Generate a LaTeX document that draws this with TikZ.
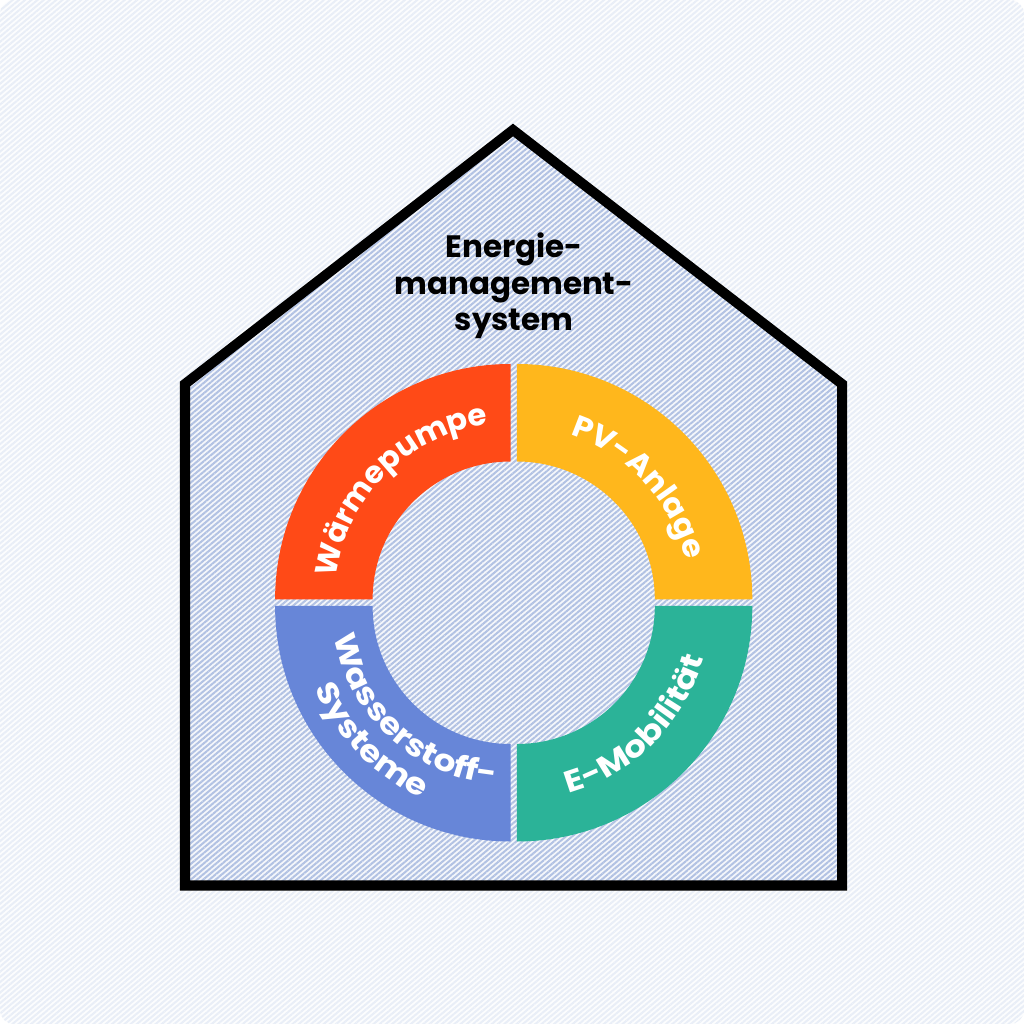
\documentclass[tikz,border=0pt]{standalone}
\usepackage{fontspec}
\usetikzlibrary{decorations.text,patterns.meta}
\newfontfamily\diagfont{Poppins}
\newfontfamily\diagfontwp{Poppins}[FakeStretch=1.02]
\newfontfamily\diagfontmid{Poppins}[FakeStretch=1.05]
\newfontfamily\diagfontwide{Poppins}[FakeStretch=1.15]
\definecolor{backlight}{HTML}{FCFDFE}
\definecolor{backline}{HTML}{E9EEF7}
\definecolor{houselight}{HTML}{F5F7FB}
\definecolor{houseline}{HTML}{B2C2E3}
\definecolor{wpcolor}{HTML}{FF4A17}
\definecolor{pvcolor}{HTML}{FFB71C}
\definecolor{emcolor}{HTML}{2BB398}
\definecolor{wscolor}{HTML}{6786D8}
\tikzset{
  ringlabel/.style 2 args={decorate,decoration={text along path,text align=center,text color=white,
    text={|#1\bfseries\fontsize{8.6}{10}\selectfont|#2}}},
  stripes/.style={pattern={Lines[angle=40,distance=0.04cm,line width=0.02cm]},pattern color=#1},
}
\begin{document}
\begin{tikzpicture}[x=0.01cm,y=0.01cm]
        \useasboundingbox (0,0) rectangle (1024,1024);
        \fill[white] (0,0) rectangle (1024,1024);
        \fill[backlight,rounded corners=4pt] (0,0) rectangle (1024,1024);
        \path[rounded corners=4pt,stripes=backline] (0,0) rectangle (1024,1024);

        \coordinate (apex) at (513,894);
        \coordinate (left) at (185,640);
        \coordinate (right) at (842,640);
        \coordinate (leftbottom) at (185,138.5);
        \coordinate (rightbottom) at (842,138.5);

        \fill[houselight] (apex)--(right)--(rightbottom)--(leftbottom)--(left)--cycle;
        \path[stripes=houseline] (apex)--(right)--(rightbottom)--(leftbottom)--(left)--cycle;
        \draw[line width=0.1cm,miter limit=10] (apex)--(right)--(rightbottom)--(leftbottom)--(left)--cycle;

        \node[align=center,font={\diagfont\bfseries\fontsize{8.8}{10.385}\selectfont}] (title) at (514,738) {Energie-\\management-\\system};

        \coordinate (wp) at (510.6,424.5);
        \coordinate (pv) at (516.8,424.5);
        \coordinate (em) at (516.8,418);
        \coordinate (ws) at (510.6,418);

        \fill[wpcolor] (wp) ++(180:235.5) arc (180:90:235.5) -- ++(0,-97.5) arc (90:180:138) -- cycle;
        \fill[pvcolor] (pv) ++(90:235.5) arc (90:0:235.5) -- ++(-97.5,0) arc (0:90:138) -- cycle;
        \fill[emcolor] (em) ++(0:235.5) arc (0:-90:235.5) -- ++(0,97.5) arc (-90:0:138) -- cycle;
        \fill[wscolor] (ws) ++(-90:235.5) arc (-90:-180:235.5) -- ++(97.5,0) arc (-180:-90:138) -- cycle;

        \path[ringlabel={\diagfontwp}{Wärmepumpe}] (wp) ++(180:176) arc (180:90:176);
        \path[ringlabel={\diagfontmid}{PV-Anlage}] (pv) ++(87.6:173) arc (87.6:-2.4:173);
        \path[ringlabel={\diagfontwide}{E-Mobilität}] (em) ++(-90:194) arc (-90:0:194);
        \path[ringlabel={\diagfontwide}{Wasserstoff-}] (ws) ++(182.5:179) arc (182.5:272.5:179);
        \path[ringlabel={\diagfontwide}{Systeme}] (ws) ++(179:212) arc (179:269:212);
\end{tikzpicture}
\end{document}
